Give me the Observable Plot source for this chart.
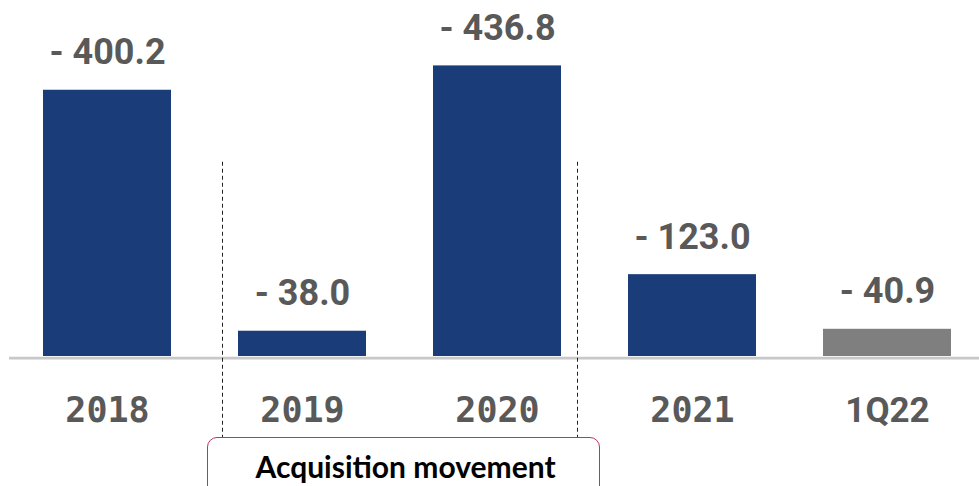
<!DOCTYPE html>
<html><head><meta charset="utf-8">
<script src="https://cdn.jsdelivr.net/npm/d3@7"></script>
<script src="https://cdn.jsdelivr.net/npm/@observablehq/plot@0.6"></script>
<style>
body{margin:0;background:#fff;}
#wrap{position:relative;width:979px;height:486px;overflow:hidden;background:#fff;}
#wrap svg{display:block;}
.box{position:absolute;left:207px;top:437px;width:393px;height:70px;border:1px solid #b5385f;border-radius:10px;box-sizing:border-box;
 text-align:center;font-family:Lato, "Open Sans", sans-serif;font-weight:700;font-size:30px;line-height:1;padding-top:13px;padding-left:4px;color:#000;}
</style>
</head><body>
<div id="wrap"></div>
<script>
const periods = ["2018", "2019", "2020", "2021", "1Q22"];
const values = [-400.2, -38.0, -436.8, -123.0, -40.9];
const kinds = ["Year", "Year", "Year", "Year", "Quarter"];
const acquisitionPeriods = ["2019", "2020"];
const acquisitionLabel = "Acquisition movement";

const data = periods.map((p, i) => ({period: p, value: values[i], kind: kinds[i]}));
const navy = "#1a3d7a", grey = "#7f7f7f", textGrey = "#595959";
const fmt = v => `- ${Math.abs(v).toFixed(1)}`;

const chart = Plot.plot({
  width: 979, height: 437,
  marginTop: 0, marginBottom: 0, marginLeft: 9, marginRight: 0,
  x: {domain: periods, range: [9, 984.5], paddingInner: 0.344, paddingOuter: 0.172, axis: null},
  y: {domain: [0, 436.8], range: [356, 65.4], axis: null},
  color: {type: "identity"},
  marks: [
    Plot.barY(data, {x: "period", y: d => -d.value, fill: d => d.kind === "Quarter" ? grey : navy}),
    Plot.ruleY([0], {stroke: "#c8c8c8", strokeWidth: 2.6, dy: 1.6}),
    Plot.text(data, {x: "period", y: d => -d.value, text: d => fmt(d.value), dy: -26, lineAnchor: "bottom",
      fontFamily: "Roboto", fontWeight: 700, fontSize: 36, fill: textGrey}),
    Plot.text(data.filter(d => d.kind !== "Quarter"), {x: "period", y: 0, text: "period", dy: 65, lineAnchor: "bottom",
      fontFamily: "DejaVu Sans Mono", fontWeight: 700, fontSize: 35, fill: textGrey}),
    Plot.text(data.filter(d => d.kind === "Quarter"), {x: "period", y: 0, text: "period", dy: 65, lineAnchor: "bottom",
      fontFamily: "Roboto", fontWeight: 700, fontSize: 35, fill: textGrey}),
    Plot.ruleX([acquisitionPeriods[0]], {x: d => d, y1: 292, y2: -122, dx: -80, stroke: "#222", strokeWidth: 1, strokeDasharray: "4,3"}),
    Plot.ruleX([acquisitionPeriods[1]], {x: d => d, y1: 292, y2: -122, dx: 80, stroke: "#222", strokeWidth: 1, strokeDasharray: "4,3"})
  ]
});
const wrap = document.getElementById("wrap");
wrap.appendChild(chart);
const box = document.createElement("div");
box.className = "box";
box.textContent = acquisitionLabel;
wrap.appendChild(box);
</script>
</body></html>
